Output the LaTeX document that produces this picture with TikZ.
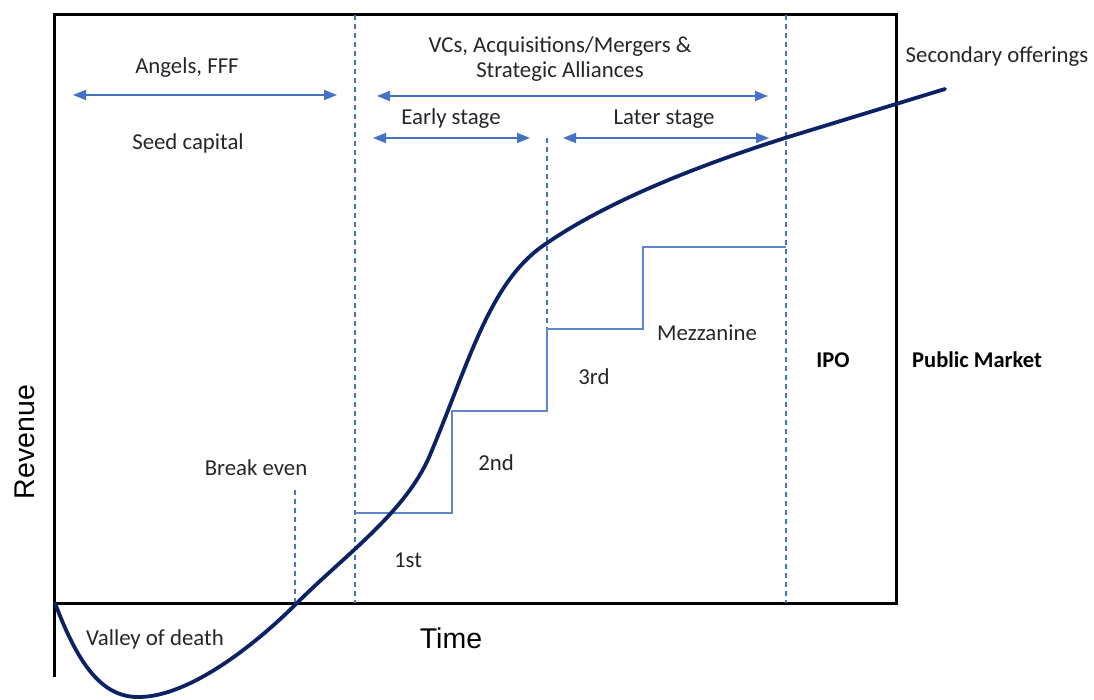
\documentclass[tikz,border=0pt]{standalone}
\usepackage{fontspec}
\setmainfont{Carlito}
\newfontfamily\axisfont{Liberation Sans}
\usetikzlibrary{arrows.meta}
\definecolor{curvenavy}{HTML}{0B2265}
\definecolor{guideblue}{HTML}{4472C4}
\definecolor{labelgray}{HTML}{262626}
\tikzset{
  frame/.style={line width=3pt, black},
  guide/.style={guideblue, line width=1.2pt, dash pattern=on 5pt off 4pt},
  span/.style={guideblue, line width=1.8pt, {Triangle[length=13pt,width=10pt]}-{Triangle[length=13pt,width=10pt]}},
  stair/.style={guideblue!85!white, line width=1.6pt},
  growth/.style={curvenavy, line width=3.8pt, line cap=round},
  lbl/.style={text=labelgray, font=\fontsize{22.8}{27}\selectfont, inner sep=0pt},
  bold lbl/.style={text=black, font=\fontsize{22.5}{27}\selectfont\bfseries, inner sep=0pt},
  axis lbl/.style={text=black, font=\axisfont\fontsize{28.5}{32}\selectfont, inner sep=0pt}
}
\begin{document}
\begin{tikzpicture}[x=1pt, y=-1pt]
\useasboundingbox (0,0) rectangle (1094,700);

% frame and axes
\coordinate (tl) at (54,15);
\coordinate (tr) at (896,15);
\coordinate (br) at (896,603);
\coordinate (bl) at (54,603);
\coordinate (axisend) at (54,677);
\draw[frame] (bl) -- (tl) -- (tr) -- (br) -- (bl);
\draw[frame] (bl) -- (axisend);

% phase boundaries
\coordinate (vcTop) at (355,15);   \coordinate (vcBot) at (355,603);
\coordinate (ipoTop) at (786,15);  \coordinate (ipoBot) at (786,603);
\coordinate (midTop) at (547,138); \coordinate (midBot) at (547,329);
\coordinate (beTop) at (295,490);  \coordinate (beBot) at (295,603);
\draw[guide] (vcTop) -- (vcBot);
\draw[guide] (ipoTop) -- (ipoBot);
\draw[guide] (midTop) -- (midBot);
\draw[guide] (beTop) -- (beBot);

% funding rounds
\coordinate (s0) at (355,513);
\coordinate (s1) at (452,513);
\coordinate (s2) at (452,411);
\coordinate (s3) at (547,411);
\coordinate (s4) at (547,329);
\coordinate (s5) at (643,329);
\coordinate (s6) at (643,247);
\coordinate (s7) at (786,247);
\draw[stair] (s0) -- (s1) -- (s2) -- (s3) -- (s4) -- (s5) -- (s6) -- (s7);

% financing spans
\coordinate (angL) at (73,95);  \coordinate (angR) at (337,95);
\coordinate (vcL) at (377,96);  \coordinate (vcR) at (768,96);
\coordinate (earlyL) at (373,138); \coordinate (earlyR) at (530,138);
\coordinate (laterL) at (563,138); \coordinate (laterR) at (769,138);
\draw[span] (angL) -- (angR);
\draw[span] (vcL) -- (vcR);
\draw[span] (earlyL) -- (earlyR);
\draw[span] (laterL) -- (laterR);

% revenue curve
\draw[growth] (55,603)
  .. controls (80,670) and (105,698) .. (140,697)
  .. controls (190,696) and (255,645) .. (297,603)
  .. controls (345,555) and (406,512) .. (430,455)
  .. controls (470,360) and (490,280) .. (547,243)
  .. controls (610,200) and (700,165) .. (785,138)
  -- (945,89);

% labels
\node[lbl] (angels) at (187,68) {Angels, FFF};
\node[lbl] (seed) at (188,143) {Seed capital};
\node[lbl] (vc1) at (560,47) {VCs, Acquisitions/Mergers \&};
\node[lbl] (vc2) at (560,72) {Strategic Alliances};
\node[lbl] (early) at (451,119) {Early stage};
\node[lbl] (later) at (664,119) {Later stage};
\node[lbl] (secondary) at (997,57) {Secondary offerings};
\node[lbl] (mezz) at (707,333) {Mezzanine};
\node[lbl] (third) at (594,377) {3rd};
\node[lbl] (second) at (496,463) {2nd};
\node[lbl] (first) at (408,560) {1st};
\node[lbl] (breakeven) at (256,468) {Break even};
\node[lbl] (valley) at (155,639) {Valley of death};
\node[bold lbl] (ipo) at (833,360) {IPO};
\node[bold lbl] (public) at (977,360) {Public Market};
\node[axis lbl] (time) at (451,638) {Time};
\node[axis lbl, rotate=90] (revenue) at (25,442) {Revenue};
\end{tikzpicture}
\end{document}
